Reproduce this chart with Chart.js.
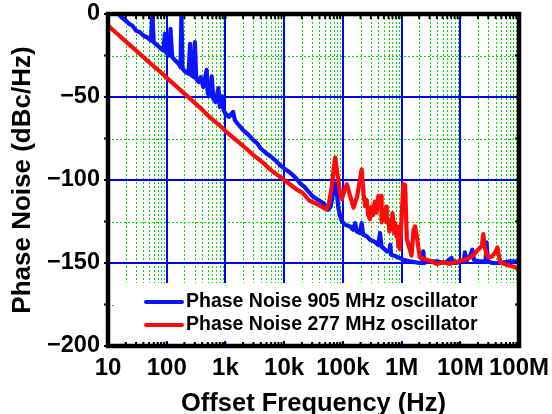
<!DOCTYPE html>
<html>
<head>
<meta charset="utf-8">
<title>Phase Noise</title>
<script src="https://cdn.jsdelivr.net/npm/chart.js@4.4.1/dist/chart.umd.min.js"></script>
<style>
  html, body { margin: 0; padding: 0; background: #fff; }
  #wrap { width: 552px; height: 414px; }
</style>
</head>
<body>
<div id="wrap"><canvas id="pnChart" width="552" height="414"></canvas></div>
<script>
// Offset frequency (Hz) and phase noise (dBc/Hz) for the two oscillators
const freq905 = [15, 17, 20, 23, 26, 30, 35, 40, 46, 54, 57, 60, 70, 80, 88, 93, 98, 108, 116, 124,
  140, 160, 172, 178, 186, 210, 235, 250, 265, 290, 302, 318, 350, 380, 420, 479, 500, 560, 585, 620,
  680, 760, 800, 870, 930, 1000, 1150, 1350, 1450, 1700, 2000, 2500, 3000, 3500, 4000, 5000, 6000, 7000,
  8500, 10000, 12000, 14000, 16000, 18600, 22000, 26000, 31000, 38000, 47000, 56000, 62000, 68000,
  74000, 79000, 84000, 89000, 96000, 110000, 133000, 150000, 162000, 172000, 195000, 209000, 222000,
  257000, 290000, 340000, 400000, 430000, 455000, 560000, 620000, 640000, 665000, 800000, 1.07e6,
  1.4e6, 2.04e6, 2.25e6, 2.34e6, 2.45e6, 2.7e6, 4e6, 5.5e6, 7.1e6, 8e6, 1e7, 1.15e7, 1.2e7, 1.26e7,
  1.5e7, 1.6e7, 1.7e7, 2e7, 2.7e7, 2.8e7, 2.95e7, 3.5e7, 4.8e7, 7e7, 1e8];
const pn905 = [0, -2, -4, -6, -7, -10, -11, -13, -14, -16, 0, -17, -19, -21, -22, -12, -23, -25, -9, -26,
  -28, -30, -32, 0, -33, -35, -36, -18, -37, -38, -17, -39, -41, -38, -44, -33.6, -48, -49, -37.6, -51,
  -53, -44.6, -56, -49.6, -58, -60, -62, -59, -64, -67, -70, -73, -76, -78, -81, -84, -86, -88,
  -91, -93, -95, -97, -99, -102, -104, -107, -110, -112, -114, -118, -116, -108,
  -102, -108, -117, -121, -125, -127, -128, -130, -126, -131, -132, -126, -133,
  -134, -136, -137, -139, -132, -140, -143, -143, -139, -145, -146, -148,
  -149, -150, -150, -143, -150, -149, -149, -150, -147, -150, -149.5, -149, -143.6, -149,
  -145, -142, -148, -149, -149, -137.6, -149, -150, -150, -149, -149];

const freq277 = [10, 12, 15, 20, 25, 30, 40, 50, 60, 70, 85, 100, 125, 150, 200, 250, 300, 400, 500, 600,
  700, 850, 1000, 1300, 1600, 2000, 2500, 3000, 4000, 5000, 5700, 7000, 8500, 10000, 13000, 16000,
  21000, 27000, 34000, 41000, 48000, 53000, 58000, 65000, 70000, 74000, 78000, 83000, 90000, 96000,
  105000, 117000, 125000, 133000, 152000, 175000, 195000, 209000, 225000, 239000, 255000, 270000,
  290000, 310000, 330000, 350000, 376000, 403000, 430000, 447000, 457000, 490000, 520000, 545000,
  560000, 596000, 620000, 640000, 677000, 700000, 720000, 750000, 773000, 820000, 850000, 880000,
  940000, 1.07e6, 1.15e6, 1.23e6, 1.48e6, 1.6e6, 1.7e6, 1.8e6, 2.04e6, 3e6, 4e6, 5e6,
  6.7e6, 8e6, 1e7, 1.2e7, 1.48e7, 1.7e7, 2.05e7, 2.33e7, 2.46e7, 2.6e7, 2.8e7, 3e7, 3.5e7, 4e7,
  4.3e7, 4.6e7, 4.8e7, 6e7, 7.1e7, 8.5e7, 9.8e7];
const pn277 = [-7, -9.5, -12.5, -16.5, -19.5, -22, -26, -29, -31.5, -33.5, -36, -38.5, -41.5, -44, -48, -51, -53.5, -57.5, -61, -63.5,
  -65.5, -68, -70.5, -74, -76.5, -79.5, -82.5, -85, -88.5, -91.5, -93.5, -96, -98, -100, -103, -105.5,
  -108, -112.5, -114, -115.6, -117, -117.6, -114, -103.6, -93, -86.5, -92, -99.6, -108, -111.6,
  -107, -102.6, -106, -109.6, -116.6, -110, -100, -93.6, -108, -115.6, -112, -121,
  -123.6, -116, -121, -113, -119.6, -109.6, -114, -109.6, -125.6, -118, -124, -116,
  -125.6, -123.6, -131, -127, -129.6, -120, -122.6, -132, -125.6, -134, -128, -139.7,
  -141.6, -102.6, -103, -135.6, -145.6, -130, -128, -133, -146.6, -148.6, -150.6, -149.5,
  -150.5, -149.5, -148.6, -148, -146.6, -145, -141.7, -139.7, -132.6, -140, -145, -146.6, -146, -143,
  -140.6, -147, -149.6, -151, -151.7, -152.5, -153.7];

const seriesLabels = ['Phase Noise 905 MHz oscillator', 'Phase Noise 277 MHz oscillator'];
const seriesColors = ['#0a14ff', '#ff0a0a'];

const xTickValues = [10, 100, 1e3, 1e4, 1e5, 1e6, 1e7, 1e8];
const xTickLabels = ['10', '100', '1k', '10k', '100k', '1M', '10M', '100M'];
const yTickValues = [0, -50, -100, -150, -200];
const yTickLabels = ['0', '\u221250', '\u2212100', '\u2212150', '\u2212200'];
const yMinorValues = [-25, -75, -125, -175];

const FONT = "'Liberation Sans', Arial, sans-serif";

// minor decade positions 2..9 x 10^n
const xMinorValues = [];
for (let d = 10; d < 1e8; d *= 10) {
  for (let m = 2; m <= 9; m++) xMinorValues.push(m * d);
}

function toPoints(xs, ys) {
  return xs.map((f, i) => ({ x: f, y: ys[i] }));
}

function hLine(ctx, x0, x1, y) {
  ctx.beginPath(); ctx.moveTo(x0, y); ctx.lineTo(x1, y); ctx.stroke();
}
function vLine(ctx, x, y0, y1) {
  ctx.beginPath(); ctx.moveTo(x, y0); ctx.lineTo(x, y1); ctx.stroke();
}

// grid, legend box and heavy frame with tick marks
const plotFrame = {
  id: 'plotFrame',
  beforeDatasetsDraw(chart) {
    const { ctx, chartArea: a, scales: { x, y } } = chart;
    ctx.save();
    ctx.strokeStyle = '#00e000';
    ctx.lineWidth = 1;
    ctx.setLineDash([2, 2]);
    xMinorValues.forEach(v => {
      const px = Math.round(x.getPixelForValue(v)) + 0.5;
      vLine(ctx, px, a.top, a.bottom);
    });
    yMinorValues.forEach(v => {
      const py = Math.round(y.getPixelForValue(v)) + 0.5;
      hLine(ctx, a.left, a.right, py);
    });
    ctx.setLineDash([]);
    ctx.strokeStyle = '#0000ff';
    ctx.lineWidth = 2;
    xTickValues.forEach(v => vLine(ctx, Math.round(x.getPixelForValue(v)), a.top, a.bottom));
    yTickValues.forEach(v => hLine(ctx, a.left, a.right, Math.round(y.getPixelForValue(v))));
    ctx.restore();
  },
  afterDatasetsDraw(chart) {
    const { ctx, chartArea: a, scales: { x, y } } = chart;
    ctx.save();

    // legend
    ctx.fillStyle = '#fff';
    ctx.fillRect(a.left + 6, a.bottom - 63, a.right - a.left - 8, 58);
    ctx.font = 'bold 19.5px ' + FONT;
    ctx.textBaseline = 'middle';
    ctx.textAlign = 'left';
    chart.data.datasets.forEach((ds, i) => {
      const ry = a.bottom - 44 + i * 23;
      ctx.strokeStyle = ds.borderColor;
      ctx.lineWidth = 4;
      ctx.lineCap = 'round';
      hLine(ctx, a.left + 38, a.left + 74, ry);
      ctx.fillStyle = '#000';
      ctx.fillText(ds.label, a.left + 78, ry);
    });

    // tick marks
    ctx.lineCap = 'butt';
    ctx.strokeStyle = '#000';
    ctx.lineWidth = 2;
    xMinorValues.concat(xTickValues).forEach(v => {
      const px = x.getPixelForValue(v);
      vLine(ctx, px, a.top, a.top + 5);
      vLine(ctx, px, a.bottom - 4, a.bottom);
    });
    yMinorValues.concat(yTickValues).forEach(v => {
      const py = y.getPixelForValue(v);
      hLine(ctx, a.left - 4, a.left, py);
      hLine(ctx, a.right - 4, a.right, py);
    });

    // frame
    ctx.lineWidth = 4.5;
    ctx.strokeRect(a.left, a.top, a.right - a.left, a.bottom - a.top);
    ctx.restore();
  }
};

new Chart(document.getElementById('pnChart'), {
  type: 'line',
  data: {
    datasets: [{
      label: seriesLabels[0],
      data: toPoints(freq905, pn905),
      borderColor: seriesColors[0],
      order: 1
    }, {
      label: seriesLabels[1],
      data: toPoints(freq277, pn277),
      borderColor: seriesColors[1],
      order: 0
    }]
  },
  options: {
    responsive: false,
    animation: false,
    devicePixelRatio: 1,
    layout: { padding: { top: 14, right: 33, left: 0, bottom: 0 } },
    elements: {
      point: { radius: 0 },
      line: { borderWidth: 4.2, tension: 0, borderJoinStyle: 'round', borderCapStyle: 'round' }
    },
    plugins: {
      legend: { display: false },
      tooltip: { enabled: false }
    },
    scales: {
      x: {
        type: 'logarithmic',
        min: 10,
        max: 1e8,
        grid: { display: false, drawTicks: false },
        border: { display: false },
        afterBuildTicks: axis => { axis.ticks = xTickValues.map(v => ({ value: v })); },
        afterFit: axis => {
          axis.height = 68;
          axis.paddingLeft = 0; axis.paddingRight = 0;
        },
        ticks: {
          autoSkip: false,
          maxRotation: 0,
          padding: 8,
          color: '#000',
          font: { family: FONT, size: 24, weight: 'bold' },
          callback: v => {
            const i = xTickValues.indexOf(v);
            return i >= 0 ? xTickLabels[i] : '';
          }
        },
        title: {
          display: true,
          text: 'Offset Frequency (Hz)',
          color: '#000',
          padding: { top: 0, bottom: 0 },
          font: { family: FONT, size: 25.5, weight: 'bold', lineHeight: 0.8 }
        }
      },
      y: {
        type: 'linear',
        min: -200,
        max: 0,
        grid: { display: false, drawTicks: false },
        border: { display: false },
        afterBuildTicks: axis => { axis.ticks = yTickValues.map(v => ({ value: v })); },
        afterFit: axis => {
          axis.width = 108;
          axis.paddingTop = 0; axis.paddingBottom = 0;
        },
        ticks: {
          padding: 8,
          color: '#000',
          font: { family: FONT, size: 23.5, weight: 'bold' },
          callback: v => {
            const i = yTickValues.indexOf(v);
            return i >= 0 ? yTickLabels[i] : '';
          }
        },
        title: {
          display: true,
          text: 'Phase Noise (dBc/Hz)',
          color: '#000',
          padding: { top: 12.5, bottom: 0 },
          font: { family: FONT, size: 26, weight: 'bold', lineHeight: 0.8 }
        }
      }
    }
  },
  plugins: [plotFrame]
});
</script>
</body>
</html>
